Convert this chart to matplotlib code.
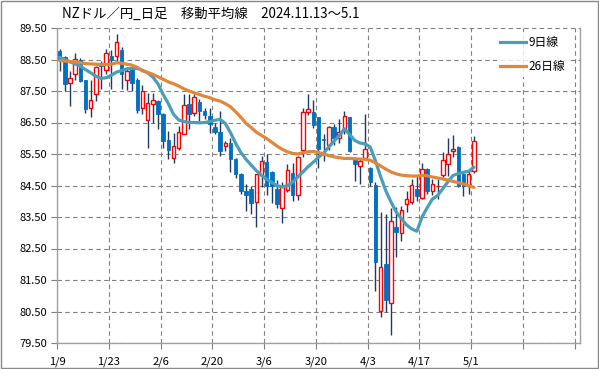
import matplotlib
matplotlib.use('Agg')
import matplotlib.pyplot as plt
from matplotlib.patches import Rectangle
from matplotlib.lines import Line2D

plt.rcParams['font.family'] = ['Noto Sans CJK JP', 'DejaVu Sans']

# daily candles 2025/1/9 .. 5/1 (weekdays)
opens = [88.78, 88.58, 87.74, 88.03, 88.47, 87.84, 86.97, 87.40, 88.40, 88.18,
         88.61, 88.60, 88.80, 87.84, 88.24, 87.84, 86.95, 86.57, 87.10, 87.18,
         86.76, 85.94, 85.36, 85.70, 86.15, 87.08, 86.79, 87.16, 86.86, 86.70,
         86.35, 86.19, 85.74, 85.84, 85.35, 84.87, 84.34, 84.38, 83.98, 84.82,
         85.24, 84.92, 84.38, 83.80, 84.36, 84.90, 84.20, 85.62, 86.82, 86.84,
         86.66, 85.98, 85.79, 86.35, 86.00, 86.22, 86.67, 85.31, 85.12, 85.38,
         85.07, 84.52, 80.51, 82.00, 80.76, 83.19, 82.98, 83.91, 83.97, 84.39,
         84.10, 85.03, 84.32, 84.47, 84.82, 85.18, 85.60, 85.73, 84.87, 84.50,
         84.97]
highs = [88.84, 88.62, 88.13, 88.72, 88.55, 87.86, 87.84, 88.30, 88.45, 88.82,
         88.80, 89.30, 88.91, 88.25, 88.30, 87.92, 87.70, 87.45, 87.45, 87.22,
         86.80, 86.24, 86.17, 86.40, 87.41, 87.40, 87.40, 87.26, 86.95, 86.97,
         86.50, 86.88, 85.90, 86.02, 85.38, 84.90, 84.55, 84.50, 84.86, 85.45,
         85.50, 84.95, 84.66, 84.62, 85.18, 85.20, 85.45, 86.95, 87.40, 87.22,
         86.68, 86.15, 86.40, 86.45, 86.62, 86.87, 86.68, 85.42, 85.37, 86.78,
         85.10, 84.60, 83.65, 83.60, 83.80, 83.82, 83.84, 84.34, 84.71, 84.81,
         85.22, 85.05, 84.70, 84.71, 85.55, 86.00, 86.10, 85.75, 84.92, 84.97,
         86.08]
lows = [88.13, 87.50, 87.03, 87.84, 87.80, 86.80, 86.69, 87.18, 87.55, 88.03,
        87.55, 88.45, 87.55, 87.52, 87.50, 86.80, 86.76, 85.69, 86.50, 86.30,
        85.70, 85.34, 85.22, 85.64, 86.12, 86.28, 86.70, 86.54, 86.62, 86.17,
        86.13, 85.43, 85.60, 84.93, 84.75, 84.22, 83.70, 83.60, 83.18, 84.45,
        84.20, 83.95, 83.78, 83.30, 84.30, 84.00, 84.05, 85.40, 86.75, 86.32,
        85.07, 85.28, 85.62, 85.80, 85.84, 86.15, 85.57, 84.65, 84.55, 85.30,
        84.47, 81.14, 80.33, 80.50, 79.76, 82.24, 82.75, 83.65, 83.91, 84.00,
        84.07, 84.23, 84.20, 84.07, 84.76, 84.81, 85.40, 84.45, 84.18, 84.23,
        84.90]
closes = [88.50, 87.72, 87.90, 88.52, 87.82, 86.92, 87.22, 88.26, 88.30, 88.70,
          88.48, 89.06, 88.03, 88.15, 87.76, 86.90, 87.50, 87.13, 87.20, 86.76,
          85.92, 85.62, 85.75, 86.19, 87.07, 86.76, 87.32, 86.86, 86.75, 86.44,
          86.20, 85.61, 85.84, 85.34, 84.88, 84.33, 84.20, 83.94, 84.86, 85.28,
          84.50, 84.49, 83.92, 84.44, 85.00, 84.20, 85.40, 86.83, 86.92, 86.43,
          85.67, 85.93, 86.35, 86.00, 86.20, 86.72, 85.60, 85.18, 85.28, 85.65,
          84.60, 82.08, 81.92, 80.87, 83.36, 83.03, 83.72, 84.07, 84.53, 84.18,
          85.02, 84.34, 84.55, 84.50, 85.31, 85.50, 85.66, 84.47, 84.50, 84.87,
          85.92]

# moving averages
ma9 = [88.57, 88.50, 88.43, 88.36, 88.29, 88.18, 88.08, 87.97, 87.90, 87.92,
       88.00, 88.10, 88.15, 88.20, 88.22, 88.22, 88.16, 88.08, 87.94, 87.73,
       87.39, 87.10, 86.76, 86.58, 86.53, 86.50, 86.50, 86.49, 86.50, 86.53,
       86.57, 86.60, 86.47, 86.18, 85.84, 85.55, 85.33, 85.15, 84.97, 84.82,
       84.70, 84.60, 84.49, 84.46, 84.49, 84.61, 84.77, 84.93, 85.10, 85.24,
       85.40, 85.53, 85.73, 85.91, 86.08, 86.30, 86.12, 85.93, 85.85, 85.82,
       85.72, 85.28, 84.78, 84.33, 83.98, 83.66, 83.45, 83.25, 83.12, 83.05,
       83.50, 83.80, 84.07, 84.18, 84.40, 84.62, 84.82, 84.88, 84.92, 84.95,
       85.08]
ma26 = [88.47, 88.45, 88.43, 88.42, 88.40, 88.37, 88.36, 88.35, 88.34, 88.34,
        88.35, 88.40, 88.38, 88.35, 88.32, 88.25, 88.14, 88.09, 88.03, 87.95,
        87.87, 87.79, 87.73, 87.66, 87.57, 87.50, 87.44, 87.39, 87.33, 87.29,
        87.22, 87.18, 87.10, 87.00, 86.84, 86.67, 86.47, 86.34, 86.19, 86.09,
        85.99, 85.87, 85.75, 85.65, 85.57, 85.52, 85.50, 85.54, 85.57, 85.58,
        85.55, 85.50, 85.45, 85.41, 85.38, 85.36, 85.36, 85.35, 85.34, 85.33,
        85.30, 85.22, 85.12, 85.02, 84.93, 84.87, 84.83, 84.81, 84.80, 84.80,
        84.82, 84.81, 84.77, 84.74, 84.71, 84.67, 84.63, 84.59, 84.55, 84.49,
        84.44]

tick_labels = ['1/9', '1/23', '2/6', '2/20', '3/6', '3/20', '4/3', '4/17', '5/1', '', '']
title = 'NZドル／円_日足　移動平均線　2024.11.13～5.1'

fig = plt.figure(figsize=(5.99, 3.69), dpi=100)
ax = fig.add_axes([57 / 599, 26 / 369, 523 / 599, 315 / 369])

up_col = '#FF0000'
down_col = '#0070C0'
wick_col = '#1F3864'
w = 0.68

for i in range(len(opens)):
    x = i + 0.5
    o, h, l, c = opens[i], highs[i], lows[i], closes[i]
    ax.vlines(x, l, h, color=wick_col, lw=1.0, zorder=3)
    if c >= o:
        ax.add_patch(Rectangle((x - w / 2, o), w, c - o, facecolor='white',
                               edgecolor=up_col, lw=1.0, zorder=4))
    else:
        ax.add_patch(Rectangle((x - w / 2, c), w, o - c, facecolor=down_col,
                               edgecolor=down_col, lw=0.6, zorder=4))

xs = [i + 0.5 for i in range(len(ma9))]
ax.plot(xs, ma9, color='#4A9FB8', lw=2.3, zorder=5, solid_capstyle='round')
ax.plot(xs, ma26, color='#E0873C', lw=2.3, zorder=5, solid_capstyle='round')

ax.set_xlim(0, 101)
ax.set_ylim(79.5, 89.5)
ax.set_yticks([79.5 + k for k in range(11)])
ax.set_yticklabels(['%.2f' % (79.5 + k) for k in range(11)])
ax.set_xticks(range(0, 101, 10))
ax.set_xticklabels(tick_labels)
ax.tick_params(axis='both', labelsize=8, length=4, color='#808080', width=0.8, pad=3)
ax.tick_params(axis='x', pad=6)

ax.grid(True, color='#808080', linestyle=(0, (4, 3)), lw=0.8, zorder=1)
ax.set_axisbelow(True)
ax.spines['top'].set_visible(False)
for s in ['left', 'bottom', 'right']:
    ax.spines[s].set_color('#A0A0A0')
    ax.spines[s].set_linewidth(1.0)

handles = [Line2D([], [], color='#4A9FB8', lw=2.3),
           Line2D([], [], color='#E0873C', lw=2.3)]
leg = ax.legend(handles, ['9日線', '26日線'], loc='upper right',
                bbox_to_anchor=(0.99, 1.005), fontsize=8.5, frameon=True,
                handlelength=2.2, handletextpad=0.2, labelspacing=0.95,
                borderpad=0.3, fancybox=False)
leg.get_frame().set_edgecolor('none')
leg.get_frame().set_facecolor('white')
leg.set_zorder(6)

fig.text(62 / 599, 1 - 14 / 369, title, fontsize=9.6, ha='left', va='center')

fig.patches.append(Rectangle((0.0015, 0.0025), 0.997, 0.995, transform=fig.transFigure,
                             fill=False, edgecolor='#888888', lw=1.0))

plt.savefig('out.png', dpi=100)
plt.close()
